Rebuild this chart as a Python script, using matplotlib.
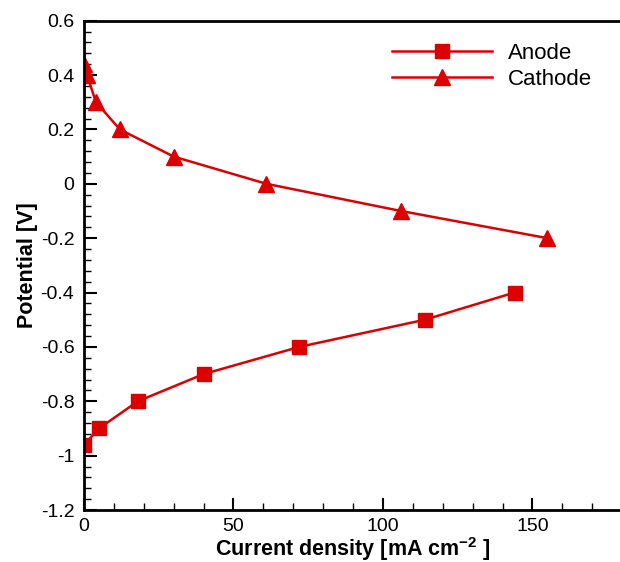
import matplotlib.pyplot as plt
from matplotlib.ticker import MultipleLocator

plt.rcParams['font.family'] = ['Liberation Sans', 'DejaVu Sans']
plt.rcParams['mathtext.fontset'] = 'custom'
plt.rcParams['mathtext.bf'] = 'Liberation Sans:bold'
plt.rcParams['mathtext.rm'] = 'Liberation Sans'

# polarisation data
anode_i = [0, 5, 18, 40, 72, 114, 144]
anode_v = [-0.96, -0.9, -0.8, -0.7, -0.6, -0.5, -0.4]
cathode_i = [0, 1, 4, 12, 30, 61, 106, 155]
cathode_v = [0.44, 0.4, 0.3, 0.2, 0.1, 0.0, -0.1, -0.2]

red = '#dd0000'

fig = plt.figure(figsize=(6.2, 5.62), dpi=100)
ax = fig.add_axes([0.1355, 0.0925, 0.868, 0.8707])

ax.plot(anode_i, anode_v, color=red, lw=1.8, marker='s', ms=10, label='Anode')
ax.plot(cathode_i, cathode_v, color=red, lw=1.8, marker='^', ms=11, label='Cathode')

ax.set_xlim(0, 180)
ax.set_ylim(-1.2, 0.6)
ax.xaxis.set_major_locator(MultipleLocator(50))
ax.xaxis.set_minor_locator(MultipleLocator(10))
ax.yaxis.set_major_locator(MultipleLocator(0.2))
ax.yaxis.set_minor_locator(MultipleLocator(0.04))
ax.yaxis.set_major_formatter(plt.FuncFormatter(lambda v, p: '%g' % round(v, 2)))

ax.tick_params(which='major', direction='in', length=9, width=1.5, labelsize=14, pad=7)
ax.tick_params(which='minor', direction='in', length=5, width=1)
ax.tick_params(axis='x', which='major', pad=6)
for s in ax.spines.values():
    s.set_linewidth(2)

ax.set_xlabel('Current density [mA cm$^{\\mathbf{-2}}$ ]', fontsize=15.5, fontweight='bold', labelpad=0)
ax.set_ylabel('Potential [V]', fontsize=15.5, fontweight='bold', labelpad=2)

ax.legend(loc='upper left', bbox_to_anchor=(0.536, 0.995), frameon=False, fontsize=16,
          handlelength=4.5, handletextpad=0.7, labelspacing=0.2)

fig.savefig('out.png', dpi=100)
